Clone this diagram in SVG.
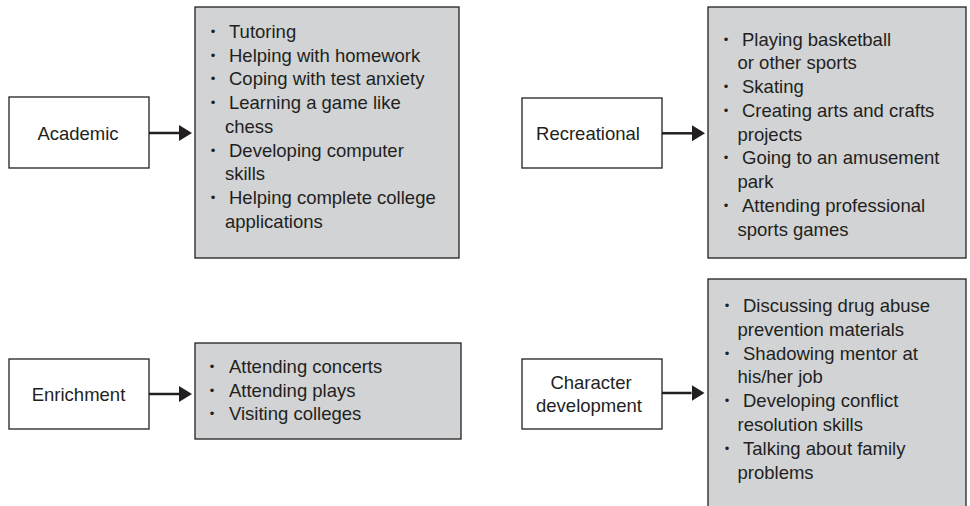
<svg xmlns="http://www.w3.org/2000/svg" width="970" height="506" viewBox="0 0 970 506">
<style>
.lbl{font-family:"Liberation Sans",Arial,sans-serif;font-size:18.5px;fill:#231f20}
.mid{text-anchor:middle}
.bul{font-family:"Liberation Sans",Arial,sans-serif;font-size:13px;fill:#231f20;text-anchor:middle}
.cat{fill:#ffffff;stroke:#231f20;stroke-width:1.3}
.lst{fill:#d1d3d4;stroke:#231f20;stroke-width:1.3}
.arr{stroke:#231f20;stroke-width:2.5;fill:none}
</style>
<defs>
<marker id="ah" markerUnits="userSpaceOnUse" markerWidth="14" markerHeight="17" refX="0" refY="8" orient="auto">
<path d="M0,0 L13,8 L0,16 z" fill="#231f20"/>
</marker>
</defs>
<rect width="970" height="506" fill="#ffffff"/>

<g id="academic">
<rect class="cat" x="9" y="97" width="140" height="71"/>
<text class="lbl mid" x="78" y="139.5">Academic</text>
</g>
<g id="academic-list">
<rect class="lst" x="195" y="7" width="264" height="251"/>
<text class="bul"><tspan x="213" y="36">•</tspan><tspan x="213" y="59.7">•</tspan><tspan x="213" y="83.4">•</tspan><tspan x="213" y="107.1">•</tspan><tspan x="213" y="154.5">•</tspan><tspan x="213" y="201.9">•</tspan></text>
<text class="lbl"><tspan x="229" y="38">Tutoring</tspan><tspan x="229" y="61.7">Helping with homework</tspan><tspan x="229" y="85.4">Coping with test anxiety</tspan><tspan x="229" y="109.1">Learning a game like</tspan><tspan x="225" y="132.8">chess</tspan><tspan x="229" y="156.5">Developing computer</tspan><tspan x="225" y="180.2">skills</tspan><tspan x="229" y="203.9">Helping complete college</tspan><tspan x="225" y="227.6">applications</tspan></text>
</g>

<g id="recreational">
<rect class="cat" x="522" y="98" width="140" height="70"/>
<text class="lbl mid" x="588" y="140">Recreational</text>
</g>
<g id="recreational-list">
<rect class="lst" x="708" y="7" width="258" height="251"/>
<text class="bul"><tspan x="726" y="43.5">•</tspan><tspan x="726" y="91">•</tspan><tspan x="726" y="114.8">•</tspan><tspan x="726" y="162.4">•</tspan><tspan x="726" y="210">•</tspan></text>
<text class="lbl"><tspan x="742" y="45.5">Playing basketball</tspan><tspan x="737.5" y="69.3">or other sports</tspan><tspan x="742" y="93">Skating</tspan><tspan x="742" y="116.8">Creating arts and crafts</tspan><tspan x="737.5" y="140.6">projects</tspan><tspan x="742" y="164.4">Going to an amusement</tspan><tspan x="737.5" y="188.2">park</tspan><tspan x="742" y="212">Attending professional</tspan><tspan x="737.5" y="235.8">sports games</tspan></text>
</g>

<g id="enrichment">
<rect class="cat" x="9" y="359" width="140" height="70"/>
<text class="lbl mid" x="78.5" y="400.5">Enrichment</text>
</g>
<g id="enrichment-list">
<rect class="lst" x="195" y="343" width="266" height="96"/>
<text class="bul"><tspan x="212" y="371.3">•</tspan><tspan x="212" y="394.8">•</tspan><tspan x="212" y="418.3">•</tspan></text>
<text class="lbl"><tspan x="229" y="373.3">Attending concerts</tspan><tspan x="229" y="396.8">Attending plays</tspan><tspan x="229" y="420.3">Visiting colleges</tspan></text>
</g>

<g id="character">
<rect class="cat" x="522" y="359" width="140" height="70"/>
<text class="lbl mid"><tspan x="591" y="388.5">Character</tspan><tspan x="589" y="411.5">development</tspan></text>
</g>
<g id="character-list">
<rect class="lst" x="708" y="279" width="258" height="240"/>
<text class="bul"><tspan x="727" y="310">•</tspan><tspan x="727" y="357.6">•</tspan><tspan x="727" y="405.2">•</tspan><tspan x="727" y="452.8">•</tspan></text>
<text class="lbl"><tspan x="743" y="312">Discussing drug abuse</tspan><tspan x="737.5" y="335.8">prevention materials</tspan><tspan x="743" y="359.6">Shadowing mentor at</tspan><tspan x="737.5" y="383.4">his/her job</tspan><tspan x="743" y="407.2">Developing conflict</tspan><tspan x="737.5" y="431">resolution skills</tspan><tspan x="743" y="454.8">Talking about family</tspan><tspan x="737.5" y="478.6">problems</tspan></text>
</g>

<g id="connectors">
<line class="arr" x1="149" y1="133" x2="179" y2="133" marker-end="url(#ah)"/>
<line class="arr" x1="662" y1="133.3" x2="692" y2="133.3" marker-end="url(#ah)"/>
<line class="arr" x1="149" y1="394" x2="179" y2="394" marker-end="url(#ah)"/>
<line class="arr" x1="662" y1="393" x2="691.5" y2="393" marker-end="url(#ah)"/>
</g>
</svg>
